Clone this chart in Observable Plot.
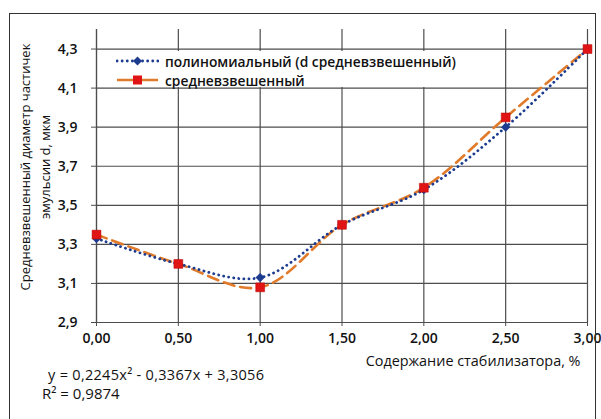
<!DOCTYPE html>
<html>
<head>
<meta charset="utf-8">
<script src="https://cdn.jsdelivr.net/npm/d3@7"></script>
<script src="https://cdn.jsdelivr.net/npm/@observablehq/plot@0.6"></script>
<style>
  html, body { margin: 0; padding: 0; background: #fff; }
  #wrap { position: relative; width: 601px; height: 419px; overflow: hidden; font-family: "Open Sans", sans-serif; }
  #border { position: absolute; left: 9px; top: 13px; width: 587px; height: 420px; border: 1.5px solid #333; box-sizing: border-box; }
  #legend { position: absolute; left: 98px; top: 51px; width: 372px; height: 36px; background: #fff; }
  .lg-row { position: absolute; left: 0; height: 18px; display: flex; align-items: center; font-size: 13.8px; font-weight: 600; color: #111; white-space: nowrap; }
  .lg-row svg { margin-left: 18px; margin-right: 6px; }
  #eq { position: absolute; left: 48px; top: 366px; color: #111; line-height: 18px; font-weight: 500; white-space: nowrap; }
  #ytitle { position: absolute; left: 35px; top: 167px; transform: translate(-50%, -50%) rotate(-90deg); text-align: center; white-space: nowrap; font-size: 13px; line-height: 20px; color: #111; }
</style>
</head>
<body>
<div id="wrap">
  <div id="chart"></div>
  <div id="legend"></div>
  <div id="eq"></div>
  <div id="ytitle"></div>
  <div id="border"></div>
</div>
<script>
// ---- data ----
const stabilizer = [0.0, 0.5, 1.0, 1.5, 2.0, 2.5, 3.0];
const weighted = [3.35, 3.20, 3.08, 3.40, 3.59, 3.95, 4.30];
const polynomial = [3.33, 3.20, 3.13, 3.40, 3.58, 3.90, 4.30];
const seriesNames = ["полиномиальный (d средневзвешенный)", "средневзвешенный"];
const yTicks = [2.9, 3.1, 3.3, 3.5, 3.7, 3.9, 4.1, 4.3];
const xTicks = [0, 0.5, 1.0, 1.5, 2.0, 2.5, 3.0];
const xTitle = "Содержание стабилизатора, %";
const yTitleLines = ["Средневзвешенный диаметр частичек", "эмульсии d, мкм"];
const equationLines = ["y = 0,2245x² - 0,3367x + 3,3056", "R² = 0,9874"];

const polyData = stabilizer.map((x, i) => ({x, y: polynomial[i]}));
const wData = stabilizer.map((x, i) => ({x, y: weighted[i]}));

const comma = (f) => (v) => f(v).replace(".", ",");
const gridColor = "#4d4d4d";
const blue = "#1d3c8f";
const orange = "#e07b2c";
const red = "#e01414";

const chart = Plot.plot({
  width: 601,
  height: 419,
  marginLeft: 96,
  marginRight: 14,
  marginTop: 29,
  marginBottom: 97,
  style: {fontFamily: "Open Sans, sans-serif", fontSize: "14px", color: "#111", background: "transparent"},
  x: {domain: [0, 3], ticks: xTicks},
  y: {domain: [2.9, 4.4]},
  marks: [
    Plot.gridX(xTicks, {stroke: gridColor, strokeOpacity: 1, strokeWidth: 1.2}),
    Plot.gridY(yTicks, {stroke: gridColor, strokeOpacity: 1, strokeWidth: 1.2}),
    Plot.axisX(xTicks, {tickSize: 4, tickPadding: 7, stroke: gridColor, tickFormat: comma(d3.format(".2f")), fontWeight: 600, fontSize: 14, label: null}),
    Plot.axisY(yTicks, {tickSize: 5, tickPadding: 14, stroke: gridColor, tickFormat: comma(d3.format(".1f")), fontWeight: 600, fontSize: 14, label: null}),
    Plot.ruleY([2.9], {stroke: gridColor, strokeWidth: 1.2}),
    Plot.ruleX([0], {stroke: gridColor, strokeWidth: 1.2}),
    Plot.line(wData, {x: "x", y: "y", curve: "catmull-rom", stroke: orange, strokeWidth: 2.6, strokeDasharray: "11,6"}),
    Plot.line(polyData, {x: "x", y: "y", curve: "catmull-rom", stroke: blue, strokeWidth: 2.8, strokeDasharray: "0.1,5", strokeLinecap: "round"}),
    Plot.dot(polyData, {x: "x", y: "y", symbol: "diamond2", r: 4.2, fill: blue, stroke: "none"}),
    Plot.dot(wData, {x: "x", y: "y", symbol: "square", r: 5, fill: red, stroke: "#b00", strokeWidth: 0.5}),
    Plot.text([xTitle], {frameAnchor: "bottom-right", textAnchor: "end", dx: -7, dy: 43, fontSize: 14.4, fill: "#111"})
  ]
});
document.getElementById("chart").appendChild(chart);

// y title (two centred lines, rotated)
const yt = document.getElementById("ytitle");
yTitleLines.forEach((t) => {
  const d = document.createElement("div");
  d.textContent = t;
  yt.appendChild(d);
});

// legend
const legend = document.getElementById("legend");
const legendSpecs = [
  {name: seriesNames[0], svg: `<svg width="43" height="12"><line x1="1" y1="6" x2="42" y2="6" stroke="${blue}" stroke-width="2.8" stroke-dasharray="0.1,5" stroke-linecap="round"/><path d="M21.5,1.5 L26,6 L21.5,10.5 L17,6 Z" fill="${blue}"/></svg>`},
  {name: seriesNames[1], svg: `<svg width="43" height="12"><line x1="1" y1="6" x2="42" y2="6" stroke="${orange}" stroke-width="2.6"/><rect x="17" y="1.5" width="9" height="9" fill="${red}"/></svg>`}
];
legendSpecs.forEach((s, i) => {
  const row = document.createElement("div");
  row.className = "lg-row";
  row.style.top = (1 + i * 19) + "px";
  row.innerHTML = s.svg + `<span>${s.name}</span>`;
  legend.appendChild(row);
});

// equation
const eq = document.getElementById("eq");
equationLines.forEach((t, i) => {
  const d = document.createElement("div");
  d.textContent = t;
  if (i === 0) { d.style.fontSize = "14.5px"; d.style.letterSpacing = "0.3px"; }
  if (i === 1) { d.style.fontSize = "15px"; d.style.marginLeft = "-6px"; }
  eq.appendChild(d);
});
</script>
</body>
</html>
